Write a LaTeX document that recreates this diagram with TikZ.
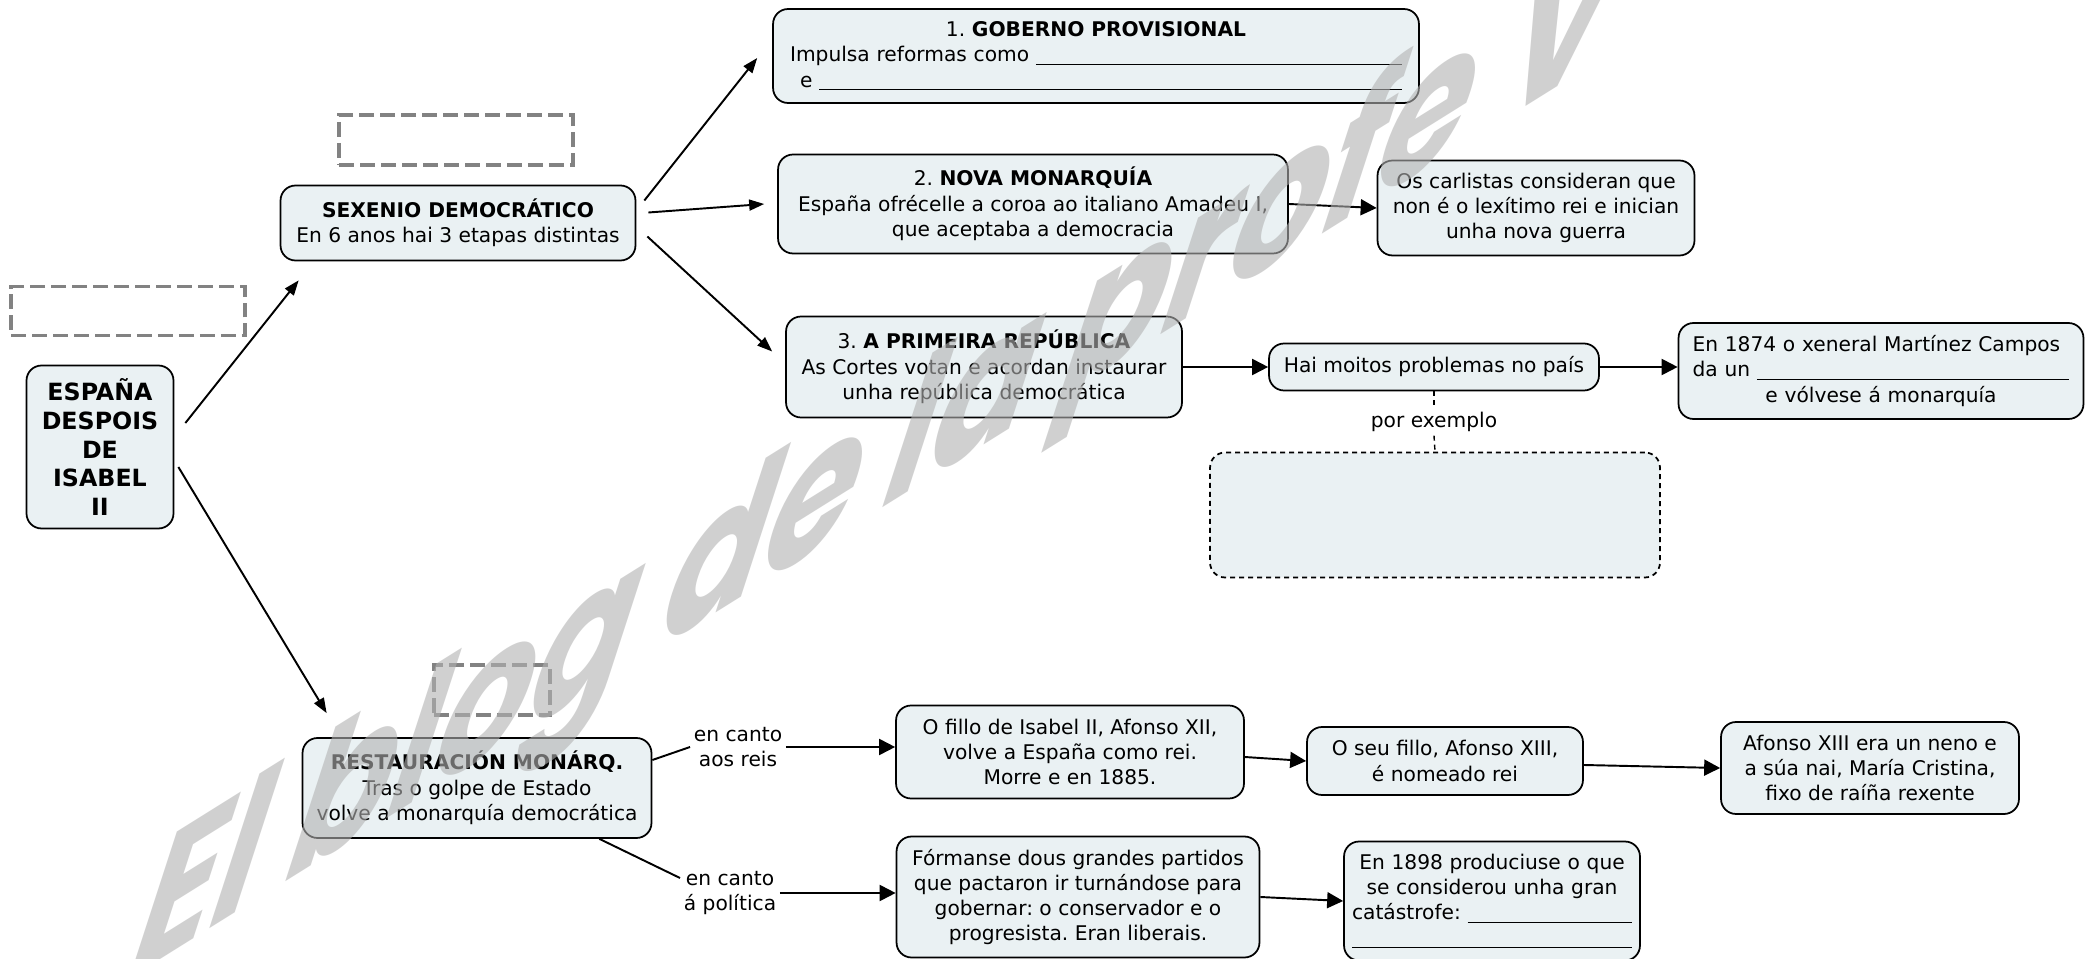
\documentclass[tikz,border=0pt]{standalone}
\usepackage{fontspec}
\setmainfont{DejaVu Sans}
\newfontfamily\wmfont{Poppins}
\usetikzlibrary{arrows.meta}
\frenchspacing

\definecolor{boxfill}{RGB}{234,241,243}
\definecolor{blankgray}{RGB}{130,130,130}
\newcommand\txtsize{\fontsize{11.5}{14.4}\selectfont}
\newcommand\headsize{\fontsize{13.5}{16.3}\selectfont\bfseries}
\newcommand\blankfill{\leavevmode\leaders\hrule height -1.3pt depth 1.9pt\hskip 0pt plus 1fill\kern0pt}

\tikzset{
  box/.style={draw, line width=1pt, rounded corners=0.3cm, fill=boxfill, align=center, font=\txtsize, inner sep=0pt},
  tbox/.style={box, align=left},
  blank/.style={draw=blankgray, line width=2.2pt, dash pattern=on 0.3cm off 0.12cm},
  lbl/.style={font=\txtsize, align=center, inner sep=2pt},
  arr/.style={line width=1.1pt, -{Triangle[length=0.3cm,width=0.22cm]}},
  harr/.style={line width=1.1pt, -{Triangle[length=0.32cm,width=0.32cm]}},
  link/.style={line width=1.1pt},
  dline/.style={line width=0.8pt, dash pattern=on 0.1cm off 0.08cm},
}

\begin{document}
\begin{tikzpicture}[x=0.02cm, y=-0.02cm]
% page (pixel grid of the scan)
\path[use as bounding box, fill=white] (0,0) rectangle (2100,959);

% Main boxes
\node[box, font=\headsize, minimum width=2.94cm, minimum height=3.26cm] (espana) at (100,447) {ESPAÑA\\DESPOIS\\DE\\ISABEL\\II};
\node[box, minimum width=7.1cm, minimum height=1.5cm] (sexenio) at (458,223) {\textbf{SEXENIO DEMOCRÁTICO}\\En 6 anos hai 3 etapas distintas};
\node[box, minimum width=6.98cm, minimum height=2cm] (rest) at (477,788) {\textbf{RESTAURACIÓN MONÁRQ.}\\Tras o golpe de Estado\\volve a monarquía democrática};

% Empty boxes to fill in
\node[blank, minimum width=4.68cm, minimum height=0.98cm] (blank1) at (128,311) {};
\node[blank, minimum width=4.68cm, minimum height=1cm] (blank2) at (456,140) {};
\node[blank, minimum width=2.32cm, minimum height=1cm] (blank3) at (492,690) {};

% Sexenio: the three stages
\node[tbox, text width=12.24cm, inner xsep=0.34cm, minimum height=1.88cm] (gob) at (1096,56) {%
  {\centering 1. \textbf{GOBERNO PROVISIONAL}\par}
  Impulsa reformas como \blankfill\par
  \hspace*{0.2cm}e \blankfill};
\node[box, minimum width=10.2cm, minimum height=1.98cm] (nova) at (1033,204) {2. \textbf{NOVA MONARQUÍA}\\España ofrécelle a coroa ao italiano Amadeu I,\\que aceptaba a democracia};
\node[box, minimum width=6.34cm, minimum height=1.9cm] (carl) at (1536,208) {Os carlistas consideran que\\non é o lexítimo rei e inician\\unha nova guerra};
\node[box, minimum width=7.92cm, minimum height=2.02cm] (prim) at (984,367) {3. \textbf{A PRIMEIRA REPÚBLICA}\\As Cortes votan e acordan instaurar\\unha república democrática};
\node[box, minimum width=6.6cm, minimum height=0.94cm] (hai) at (1434,367) {Hai moitos problemas no país};
\node[tbox, text width=7.54cm, inner xsep=0.28cm, minimum height=1.92cm] (e1874) at (1881,371) {%
  En 1874 o xeneral Martínez Campos\par
  da un \blankfill\par
  {\centering e vólvese á monarquía\par}};
\node[lbl] (porex) at (1434,422) {por exemplo};
\node[box, dash pattern=on 0.1cm off 0.08cm, minimum width=9cm, minimum height=2.5cm] (exbox) at (1435,515) {};

% Restauracion: two branches
\node[lbl] (reis) at (738,747) {en canto\\aos reis};
\node[lbl] (politica) at (730,893) {en canto\\á política};
\node[box, minimum width=6.96cm, minimum height=1.86cm] (fillo) at (1070,752) {O fillo de Isabel II, Afonso XII,\\volve a España como rei.\\Morre e en 1885.};
\node[box, minimum width=5.52cm, minimum height=1.36cm] (seu) at (1445,761) {O seu fillo, Afonso XIII,\\é nomeado rei};
\node[box, minimum width=5.96cm, minimum height=1.84cm] (afonso) at (1870,768) {Afonso XIII era un neno e\\a súa nai, María Cristina,\\fixo de raíña rexente};
\node[box, minimum width=7.26cm, minimum height=2.42cm] (forman) at (1078,897) {Fórmanse dous grandes partidos\\que pactaron ir turnándose para\\gobernar: o conservador e o\\progresista. Eran liberais.};
\node[tbox, text width=5.6cm, inner xsep=0.16cm, minimum height=2.38cm] (e1898) at (1492,901) {%
  {\centering En 1898 produciuse o que\\se considerou unha gran\par}
  catástrofe: \blankfill\par
  \blankfill};

% Connectors
\draw[arr] ([xshift=0.22cm,yshift=0.48cm]espana.east) -- ([xshift=0.38cm,yshift=-0.38cm]sexenio.south west);
\draw[arr] ([xshift=0.08cm,yshift=-0.4cm]espana.east) -- ([xshift=0.5cm,yshift=0.48cm]rest.north west);
\draw[arr] ([xshift=0.16cm,yshift=0.45cm]sexenio.east) -- ([xshift=-0.3cm,yshift=-0.04cm]gob.west);
\draw[arr] ([xshift=0.24cm,yshift=0.21cm]sexenio.east) -- ([xshift=-0.26cm]nova.west);
\draw[arr] ([xshift=0.22cm,yshift=-0.27cm]sexenio.east) -- ([xshift=-0.26cm,yshift=0.31cm]prim.west);
\draw[harr] (nova.east) -- (carl.west);
\draw[harr] (prim.east) -- (hai.west);
\draw[harr] (hai.east) -- (hai.east -| e1874.west);
\draw[dline] (hai.south) -- (porex.north);
\draw[dline] (porex.south) -- (exbox.north);
\draw[link] ([yshift=0.56cm]rest.east) -- (reis.west);
\draw[harr] (reis.east) -- (reis.east -| fillo.west);
\draw[link] ([xshift=-1.06cm]rest.south east) -- ([yshift=0.3cm]politica.west);
\draw[harr] (politica.east) -- (politica.east -| forman.west);
\draw[harr] ([yshift=-0.1cm]fillo.east) -- (seu.west);
\draw[harr] ([yshift=-0.08cm]seu.east) -- (afonso.west);
\draw[harr] (forman.east) -- (e1898.west);

% Watermark
\begin{scope}[transparency group, opacity=0.6]
\node[font=\wmfont\bfseries\fontsize{100}{100}\selectfont, text=gray!60, anchor=base west, inner sep=0pt,
  cm={0.848,0.53,0.386,1.19,(0,0)}] (wm) at (120,985) {El blog de la profe V};
\end{scope}
\end{tikzpicture}
\end{document}
